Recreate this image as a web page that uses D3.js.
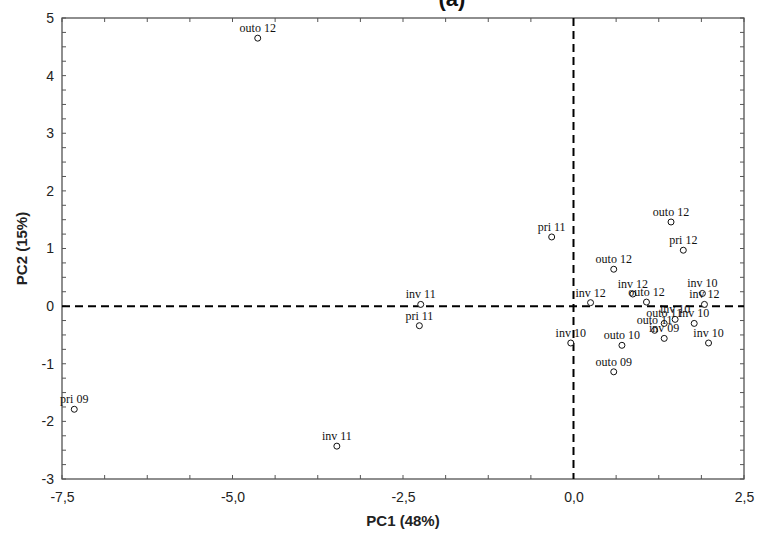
<!DOCTYPE html>
<html>
<head>
<meta charset="utf-8">
<script src="https://cdn.jsdelivr.net/npm/d3@7"></script>
<style>
  body { margin: 0; background: #fff; }
  svg { display: block; }
</style>
</head>
<body>
<svg id="chart" width="758" height="534"></svg>
<script>
// ---- data ----
const labels = ["outo 12","pri 11","outo 12","pri 12","outo 12","inv 11","pri 11","inv 12","inv 12","outo 12","inv 10","inv 12","inv 10","outo 11","inv 10","outo 11","inv 09","inv 10","outo 10","inv 10","outo 09","inv 11","pri 09"];
const pc1 = [-4.63,-0.32,1.43,1.61,0.59,-2.24,-2.26,0.25,0.87,1.07,1.89,1.92,1.49,1.33,1.77,1.19,1.33,1.98,0.71,-0.04,0.59,-3.47,-7.32];
const pc2 = [4.65,1.20,1.46,0.97,0.64,0.03,-0.34,0.06,0.21,0.07,0.22,0.03,-0.23,-0.30,-0.30,-0.42,-0.56,-0.64,-0.68,-0.64,-1.14,-2.43,-1.79];
const xTicks = [-7.5,-5.0,-2.5,0.0,2.5];
const yTicks = [-3,-2,-1,0,1,2,3,4,5];
const title = "(a)";
const xTitle = "PC1 (48%)";
const yTitle = "PC2 (15%)";

// ---- layout ----
const svg = d3.select("#chart");
const L = 62, R = 744, T = 18, B = 479;
const x = d3.scaleLinear().domain([-7.5, 2.5]).range([L, R]);
const y = d3.scaleLinear().domain([-3, 5]).range([B, T]);
const fmt = d => d3.format(".1f")(d).replace(".", ",").replace("−","-");

// title (mostly cut off at top)
svg.append("text").attr("x", 452).attr("y", 6).attr("text-anchor","middle")
  .attr("font-family","Liberation Sans, Arial, sans-serif").attr("font-weight","bold")
  .attr("font-size", 22).attr("fill","#111").text(title);

// frame
svg.append("rect").attr("x", L).attr("y", T).attr("width", R-L).attr("height", B-T)
  .attr("fill","none").attr("stroke","#444").attr("stroke-width",1.2);

// minor ticks
const xMinor = d3.range(0, 17).map(i => -7.5 + i*0.625);
const yMinor = d3.range(0, 33).map(i => -3 + i*0.25);
const tk = svg.append("g").attr("stroke","#555").attr("stroke-width",1);
xMinor.forEach(v => {
  tk.append("line").attr("x1", x(v)).attr("x2", x(v)).attr("y1", B).attr("y2", B-4);
  tk.append("line").attr("x1", x(v)).attr("x2", x(v)).attr("y1", T).attr("y2", T+4);
});
yMinor.forEach(v => {
  tk.append("line").attr("x1", L).attr("x2", L+4).attr("y1", y(v)).attr("y2", y(v));
  tk.append("line").attr("x1", R).attr("x2", R-4).attr("y1", y(v)).attr("y2", y(v));
});

// axes labels via d3 axes (no lines)
const xAxis = svg.append("g").attr("transform", `translate(0,${B})`)
  .call(d3.axisBottom(x).tickValues(xTicks).tickFormat(fmt).tickSize(0).tickPadding(13));
const yAxis = svg.append("g").attr("transform", `translate(${L},0)`)
  .call(d3.axisLeft(y).tickValues(yTicks).tickFormat(d => String(d)).tickSize(0).tickPadding(8));
[xAxis, yAxis].forEach(a => {
  a.select(".domain").remove();
  a.selectAll("text").attr("font-family","Liberation Sans, Arial, sans-serif")
    .attr("font-size", 14).attr("fill","#222");
});

// zero dashed lines
svg.append("line").attr("x1", x(0)).attr("x2", x(0)).attr("y1", T).attr("y2", B)
  .attr("stroke","#000").attr("stroke-width",2).attr("stroke-dasharray","8,5");
svg.append("line").attr("x1", L).attr("x2", R).attr("y1", y(0)).attr("y2", y(0))
  .attr("stroke","#000").attr("stroke-width",2).attr("stroke-dasharray","8,5");

// axis titles
svg.append("text").attr("x", (L+R)/2).attr("y", 526).attr("text-anchor","middle")
  .attr("font-family","Liberation Sans, Arial, sans-serif").attr("font-weight","bold")
  .attr("font-size", 15).attr("fill","#222").text(xTitle);
svg.append("text").attr("transform", `translate(27,${(T+B)/2}) rotate(-90)`).attr("text-anchor","middle")
  .attr("font-family","Liberation Sans, Arial, sans-serif").attr("font-weight","bold")
  .attr("font-size", 15).attr("fill","#222").text(yTitle);

// points
const data = labels.map((l,i) => ({l, a: pc1[i], b: pc2[i]}));
const g = svg.append("g");
g.selectAll("circle").data(data).enter().append("circle")
  .attr("cx", d => x(d.a)).attr("cy", d => y(d.b)).attr("r", 3)
  .attr("fill","#fff").attr("stroke","#111").attr("stroke-width",1);
g.selectAll("text").data(data).enter().append("text")
  .attr("x", d => x(d.a)).attr("y", d => y(d.b) - 6).attr("text-anchor","middle")
  .attr("font-family","Liberation Serif, Times New Roman, serif").attr("font-size", 12)
  .attr("fill","#111").text(d => d.l);
</script>
</body>
</html>
